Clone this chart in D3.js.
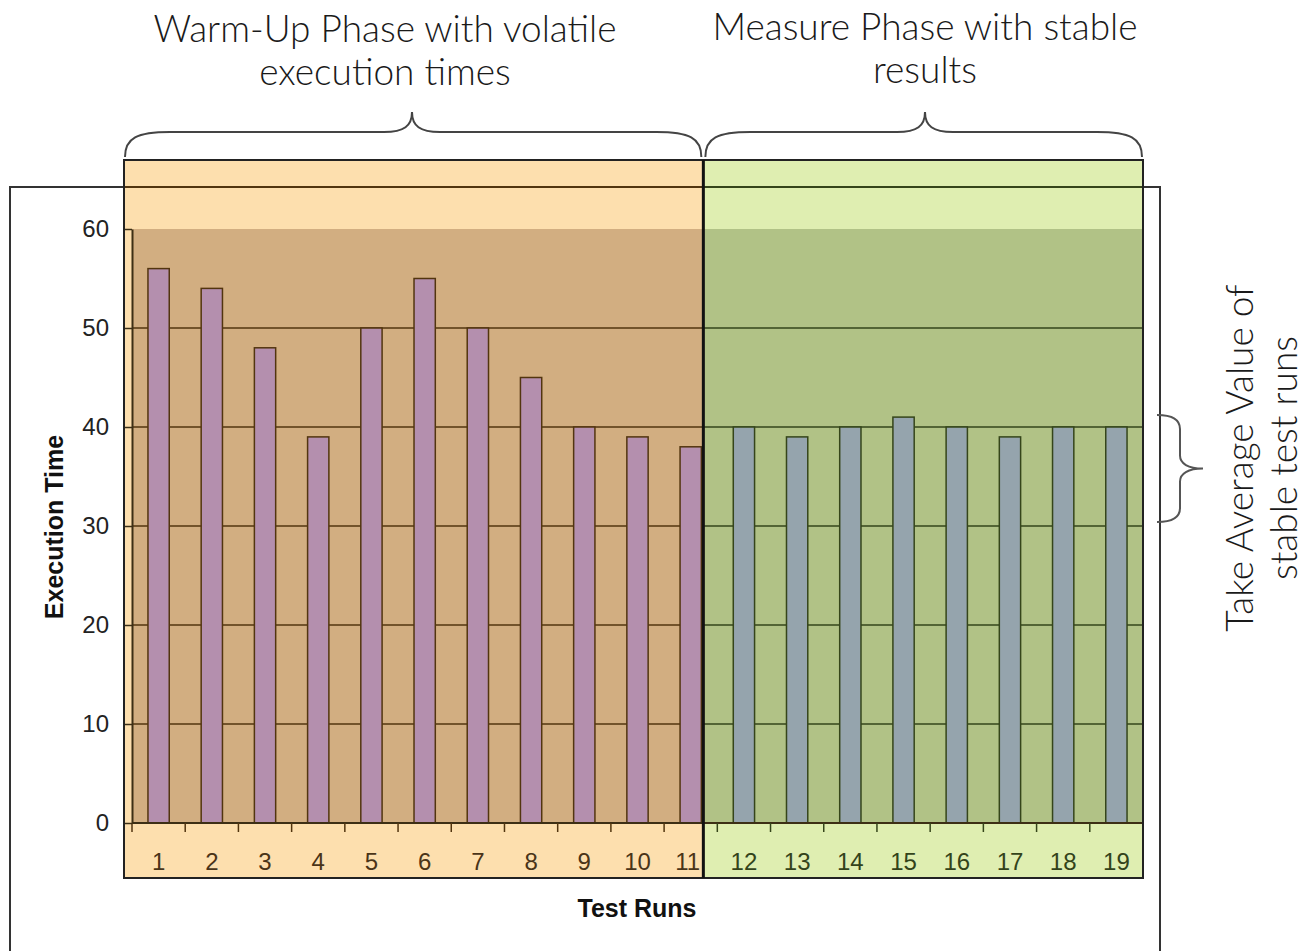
<!DOCTYPE html>
<html>
<head>
<meta charset="utf-8">
<title>Warm-Up and Measure Phase</title>
<script src="https://cdnjs.cloudflare.com/ajax/libs/d3/7.8.5/d3.min.js"></script>
<style>
	body{margin:0;background:#fff;}
	svg{display:block;}
	.note{font-family:Lato,"Open Sans",sans-serif;font-weight:300;font-size:37px;fill:#1a1a1a;}
	.axis-title{font-family:"Liberation Sans",Arial,sans-serif;font-weight:bold;font-size:25px;fill:#111;}
	.tick text{font-family:"Liberation Sans",Arial,sans-serif;font-size:24px;}
</style>
</head>
<body>
<div id="chart"></div>
<script>
	// data
	var runs = ["1","2","3","4","5","6","7","8","9","10","11","12","13","14","15","16","17","18","19"];
	var warmUpTimes = [56,54,48,39,50,55,50,45,40,39,38];
	var measureTimes = [40,39,40,41,40,39,40,40];
	var yTicks = [0,10,20,30,40,50,60];
	var warmUpTitle = ["Warm-Up Phase with volatile","execution times"];
	var measureTitle = ["Measure Phase with stable","results"];
	var averageNote = ["Take Average Value of","stable test runs"];
	var xTitle = "Test Runs";
	var yTitle = "Execution Time";

	var width = 1304, height = 951;
	var plot = {left:132, right:1143, top:229, bottom:823};
	var band = {top:160, bottom:878, left:124};

	var svg = d3.select("#chart").append("svg")
		.attr("width", width)
		.attr("height", height);

	var x = d3.scaleBand().domain(runs).range([plot.left, plot.right]).paddingInner(0.6).paddingOuter(0.3);
	var y = d3.scaleLinear().domain([0, 60]).range([plot.bottom, plot.top]);

	var times = warmUpTimes.concat(measureTimes);
	var data = runs.map(function(r, i){ return {run:r, value:times[i], phase: i < warmUpTimes.length ? 0 : 1}; });

	// divider sits just right of the last warm-up bar
	var split = x(runs[warmUpTimes.length-1]) + x.bandwidth() + 2;
	var phases = [
		{x0:band.left, x1:split, light:"#FDDFAE", dark:"#D2AE81", bar:"#B48FAE", line:"#52350F", text:"#4A3418"},
		{x0:split, x1:plot.right, light:"#DFEEB1", dark:"#B1C286", bar:"#95A4AD", line:"#35451A", text:"#33431A"}
	];

	// outer chart frame
	svg.append("rect")
		.attr("x", 10).attr("y", 187)
		.attr("width", 1150).attr("height", 780)
		.attr("fill", "#fff").attr("stroke", "#333").attr("stroke-width", 2);

	// phase backgrounds
	phases.forEach(function(p){
		svg.append("rect")
			.attr("x", p.x0).attr("y", band.top)
			.attr("width", p.x1 - p.x0).attr("height", band.bottom - band.top)
			.attr("fill", p.light);
		var px0 = Math.max(p.x0, plot.left);
		svg.append("rect")
			.attr("x", px0).attr("y", plot.top)
			.attr("width", p.x1 - px0).attr("height", plot.bottom - plot.top)
			.attr("fill", p.dark);
		// gridlines
		svg.append("g").selectAll("line")
			.data(yTicks.filter(function(v){ return v > 0 && v < 60; }))
			.enter().append("line")
			.attr("x1", px0).attr("x2", p.x1)
			.attr("y1", function(v){ return y(v); }).attr("y2", function(v){ return y(v); })
			.attr("stroke", p.line).attr("stroke-width", 1.5);
		// frame top line showing through the overlay
		svg.append("line")
			.attr("x1", p.x0).attr("x2", p.x1)
			.attr("y1", 187).attr("y2", 187)
			.attr("stroke", p.line).attr("stroke-width", 2);
	});

	// bars
	svg.append("g").selectAll("rect")
		.data(data)
		.enter().append("rect")
		.attr("x", function(d){ return x(d.run); })
		.attr("y", function(d){ return y(d.value); })
		.attr("width", x.bandwidth())
		.attr("height", function(d){ return y(0) - y(d.value); })
		.attr("fill", function(d){ return phases[d.phase].bar; })
		.attr("stroke", function(d){ return phases[d.phase].line; })
		.attr("stroke-width", 1.5);

	// x axis line and boundary ticks
	svg.append("line")
		.attr("x1", plot.left).attr("x2", plot.right)
		.attr("y1", y(0)).attr("y2", y(0))
		.attr("stroke", "#3d2f15").attr("stroke-width", 2);
	var gap = x.step() * x.paddingInner() / 2;
	svg.append("g").selectAll("line")
		.data(runs)
		.enter().append("line")
		.attr("x1", function(d){ return x(d) - gap; })
		.attr("x2", function(d){ return x(d) - gap; })
		.attr("y1", y(0)).attr("y2", y(0) + 9)
		.attr("stroke", function(d){ return (x(d) - gap) < split ? phases[0].line : phases[1].line; })
		.attr("stroke-width", 1.5);

	// x labels
	var xAxis = svg.append("g")
		.attr("transform", "translate(0," + y(0) + ")")
		.call(d3.axisBottom(x).tickSize(0).tickPadding(30));
	xAxis.select(".domain").remove();
	xAxis.selectAll(".tick text")
		.attr("dx", function(d){ return d === runs[warmUpTimes.length-1] ? -3 : 0; })
		.attr("fill", function(d){ return x(d) < split ? phases[0].text : phases[1].text; });

	// y axis
	var yAxis = svg.append("g")
		.attr("transform", "translate(" + plot.left + ",0)")
		.call(d3.axisLeft(y).tickValues(yTicks).tickSize(8).tickSizeOuter(0).tickPadding(15));
	yAxis.select(".domain").attr("stroke", "#3d2f15").attr("stroke-width", 2);
	yAxis.selectAll(".tick line").attr("stroke", "#3d2f15").attr("stroke-width", 1.5);
	yAxis.selectAll(".tick text").attr("fill", "#222");

	// overlay frame and phase divider
	svg.append("rect")
		.attr("x", band.left).attr("y", band.top)
		.attr("width", plot.right - band.left).attr("height", band.bottom - band.top)
		.attr("fill", "none").attr("stroke", "#222").attr("stroke-width", 2);
	svg.append("line")
		.attr("x1", split).attr("x2", split)
		.attr("y1", band.top).attr("y2", band.bottom)
		.attr("stroke", "#111").attr("stroke-width", 3);

	// axis titles
	svg.append("text").attr("class", "axis-title")
		.attr("x", 637).attr("y", 917)
		.attr("text-anchor", "middle")
		.text(xTitle);
	svg.append("text").attr("class", "axis-title")
		.attr("transform", "translate(63,527) rotate(-90)")
		.attr("text-anchor", "middle")
		.text(yTitle);

	// curly braces
	function hBrace(x0, x1, cx, yEnd, yMid, yPeak){
		return "M" + x0 + "," + yEnd +
			"C" + x0 + "," + (yMid + 6) + " " + (x0 + 12) + "," + yMid + " " + (x0 + 45) + "," + yMid +
			"L" + (cx - 28) + "," + yMid +
			"C" + (cx - 8) + "," + yMid + " " + cx + "," + (yMid - 6) + " " + cx + "," + yPeak +
			"C" + cx + "," + (yMid - 6) + " " + (cx + 8) + "," + yMid + " " + (cx + 28) + "," + yMid +
			"L" + (x1 - 45) + "," + yMid +
			"C" + (x1 - 12) + "," + yMid + " " + x1 + "," + (yMid + 6) + " " + x1 + "," + yEnd;
	}
	svg.append("path")
		.attr("d", hBrace(band.left + 1, split - 2, 412, 157, 132, 112))
		.attr("fill", "none").attr("stroke", "#444").attr("stroke-width", 2);
	svg.append("path")
		.attr("d", hBrace(split + 2, plot.right - 1, 925, 157, 132, 112))
		.attr("fill", "none").attr("stroke", "#444").attr("stroke-width", 2);

	// right brace spanning the stable results
	var bTop = y(measureTimes[3]) - 2, bBot = y(30) - 4, bMid = (bTop + bBot) / 2;
	svg.append("path")
		.attr("d", "M1157," + bTop + "C1172," + bTop + " 1180," + (bTop + 4) + " 1180," + (bTop + 14) +
			"L1180," + (bMid - 13) + "C1180," + (bMid - 5) + " 1188," + bMid + " 1203," + bMid +
			"C1188," + bMid + " 1180," + (bMid + 5) + " 1180," + (bMid + 13) +
			"L1180," + (bBot - 14) + "C1180," + (bBot - 4) + " 1172," + bBot + " 1157," + bBot)
		.attr("fill", "none").attr("stroke", "#555").attr("stroke-width", 2);

	// notes
	function note(lines, cx, y0, dy){
		lines.forEach(function(t, i){
			svg.append("text").attr("class", "note")
				.attr("x", cx).attr("y", y0 + i * dy)
				.attr("text-anchor", "middle")
				.text(t);
		});
	}
	note(warmUpTitle, 385, 42, 43);
	note(measureTitle, 925, 40, 43);
	averageNote.forEach(function(t, i){
		svg.append("text").attr("class", "note")
			.attr("transform", "translate(" + (1253 + i * 44) + ",458) rotate(-90)")
			.attr("text-anchor", "middle")
			.text(t);
	});
</script>
</body>
</html>
